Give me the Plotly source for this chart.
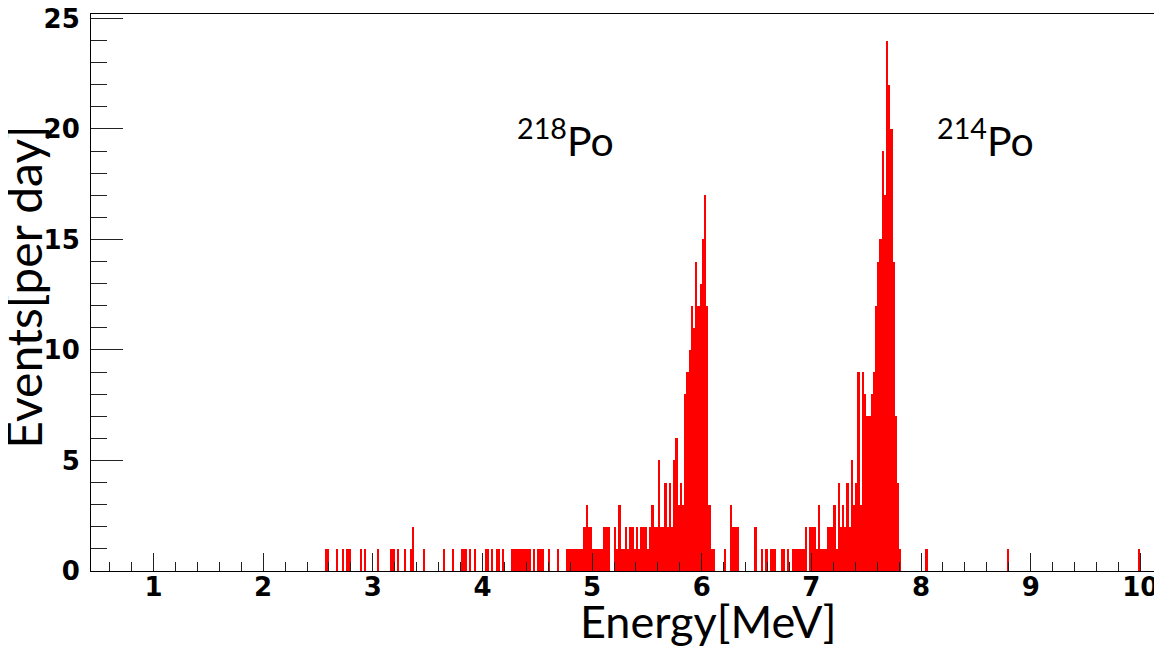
import plotly.graph_objects as go

# ---- data (bin centres in MeV, bin width 0.02 MeV; counts per day) ----
bin_width = 0.02
bin_centers = [
    2.57, 2.59, 2.67, 2.73, 2.77, 2.79, 2.89, 2.93, 3.05, 3.17, 3.19, 3.23, 3.29, 3.35, 3.37,
    3.47, 3.65, 3.73, 3.81, 3.83, 3.85, 3.89, 3.93,
    4.03, 4.05, 4.09, 4.13, 4.15, 4.19, 4.27, 4.29, 4.31, 4.33, 4.35, 4.37, 4.39, 4.41, 4.43,
    4.47, 4.51, 4.53, 4.55, 4.61, 4.69,
    4.77, 4.79, 4.81, 4.83, 4.85, 4.87, 4.89, 4.91, 4.93, 4.95, 4.97, 4.99,
    5.01, 5.03, 5.05, 5.07, 5.09, 5.11, 5.13, 5.15, 5.21, 5.23, 5.25, 5.27, 5.29,
    5.31, 5.33, 5.35, 5.37, 5.39, 5.41, 5.43, 5.45, 5.47, 5.49, 5.51, 5.53, 5.55, 5.57, 5.59,
    5.61, 5.63, 5.65, 5.67, 5.69, 5.71, 5.73, 5.75, 5.77, 5.79, 5.81, 5.83, 5.85, 5.87, 5.89,
    5.91, 5.93, 5.95, 5.97, 5.99, 6.01, 6.03, 6.05, 6.07, 6.09, 6.11,
    6.21, 6.27, 6.29, 6.31, 6.33, 6.49, 6.55, 6.59, 6.63, 6.65, 6.67, 6.73, 6.75, 6.79,
    6.83, 6.85, 6.87, 6.89, 6.91, 6.93, 6.95, 6.99,
    7.01, 7.03, 7.05, 7.07, 7.09, 7.11, 7.13, 7.15, 7.17, 7.19, 7.21, 7.23, 7.25, 7.27, 7.29,
    7.31, 7.33, 7.35, 7.37, 7.39, 7.41, 7.43, 7.45, 7.47, 7.49, 7.51, 7.53, 7.55, 7.57, 7.59,
    7.61, 7.63, 7.65, 7.67, 7.69, 7.71, 7.73, 7.75, 7.77, 7.79, 7.81,
    8.05, 8.79, 9.99,
]
counts = [
    1, 1, 1, 1, 1, 1, 1, 1, 1, 1, 1, 1, 1, 1, 2,
    1, 1, 1, 1, 1, 1, 1, 1,
    1, 1, 1, 1, 1, 1, 1, 1, 1, 1, 1, 1, 1, 1, 1,
    1, 1, 1, 1, 1, 1,
    1, 1, 1, 1, 1, 1, 1, 1, 2, 3, 2, 2,
    1, 1, 1, 1, 1, 2, 2, 2, 2, 1, 3, 1, 1,
    2, 1, 2, 2, 1, 2, 1, 2, 2, 2, 1, 2, 3, 2, 2,
    5, 2, 2, 4, 2, 4, 2, 5, 6, 3, 4, 3, 8, 9, 10,
    12, 11, 14, 12, 13, 15, 17, 12, 3, 1, 1,
    1, 3, 2, 2, 2, 2, 1, 1, 1, 1, 1, 1, 1, 1,
    1, 1, 1, 1, 1, 1, 2, 2,
    2, 2, 1, 3, 1, 1, 1, 2, 2, 2, 3, 1, 4, 2, 3,
    2, 4, 2, 5, 3, 4, 9, 3, 9, 8, 7, 7, 8, 9, 12,
    14, 15, 19, 17, 24, 22, 20, 14, 7, 4, 1,
    1, 1, 1,
]

x_range = [0.43, 10.17]
y_range = [0, 25.2]
peak_labels = ["<sup>218</sup>Po", "<sup>214</sup>Po"]
peak_label_x = [4.30, 8.13]
peak_label_y = [19.6, 19.6]

fig = go.Figure()
fig.add_trace(go.Bar(
    x=bin_centers, y=counts, width=bin_width,
    marker=dict(color="#ff0000", line=dict(width=0)),
    hoverinfo="x+y",
))

tick_font = dict(family="DejaVu Sans", size=26, color="black", weight="bold")

# the page body adds an 8 px margin, so the figure is sized 8 px smaller
fig.update_layout(
    width=1154, height=638,
    margin=dict(l=83, r=3, t=6, b=75, autoexpand=False),
    plot_bgcolor="white", paper_bgcolor="white",
    bargap=0, showlegend=False,
    xaxis=dict(
        range=x_range, tick0=0, dtick=1, ticks="inside", ticklen=18, tickwidth=1,
        tickcolor="#222", showline=True, linecolor="black", linewidth=1, mirror=True,
        showgrid=False, zeroline=False, tickfont=tick_font, ticklabelstandoff=-7,
        ticklabeloverflow="allow", automargin=False,
        minor=dict(tick0=0, dtick=0.2, ticks="inside", ticklen=9, tickwidth=1,
                   tickcolor="#222", showgrid=False),
    ),
    yaxis=dict(
        range=y_range, tick0=0, dtick=5, ticks="inside", ticklen=32, tickwidth=1,
        tickcolor="#222", showline=True, linecolor="black", linewidth=1, mirror=True,
        showgrid=False, zeroline=False, tickfont=tick_font, ticklabelstandoff=5,
        ticklabeloverflow="allow", automargin=False,
        minor=dict(tick0=0, dtick=1, ticks="inside", ticklen=16, tickwidth=1,
                   tickcolor="#222", showgrid=False),
    ),
)

label_font = "Lato"
fig.add_annotation(text="Energy[MeV]", xref="paper", yref="paper", x=0.578, y=-0.089,
                   xanchor="center", yanchor="middle", showarrow=False,
                   font=dict(family=label_font, size=45, color="black"))
fig.add_annotation(text="Events[per day]", xref="paper", yref="paper", x=-0.063, y=0.51,
                   xanchor="center", yanchor="middle", textangle=-90, showarrow=False,
                   font=dict(family=label_font, size=48, color="black"))
for txt, px, py in zip(peak_labels, peak_label_x, peak_label_y):
    fig.add_annotation(text=txt, x=px, y=py, xref="x", yref="y", xanchor="left",
                       yanchor="middle", showarrow=False,
                       font=dict(family=label_font, size=41, color="black"))

fig.write_html("out.html")
